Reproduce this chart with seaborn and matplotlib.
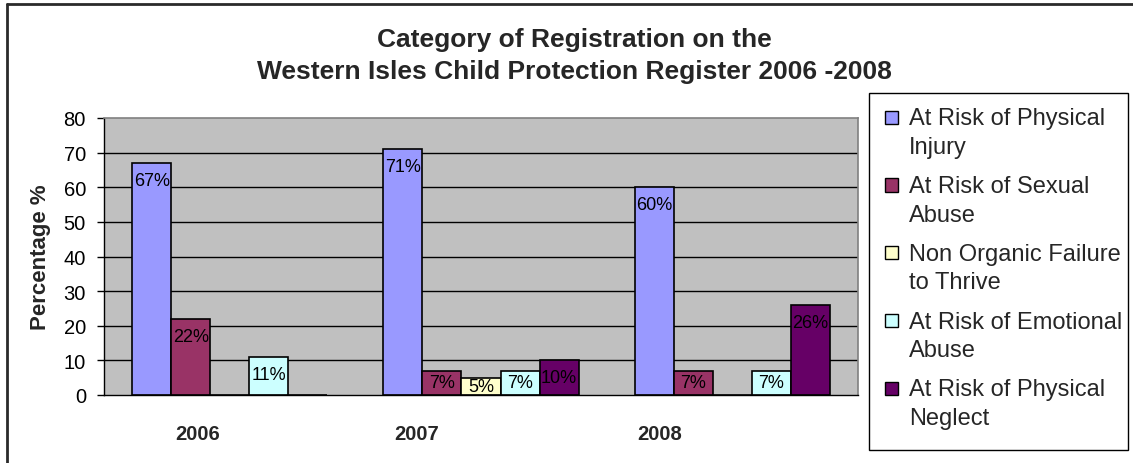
import numpy as np
import pandas as pd
import seaborn as sns
import matplotlib
matplotlib.use("Agg")
import matplotlib.pyplot as plt
from matplotlib.patches import Rectangle
from matplotlib.lines import Line2D
from matplotlib.legend_handler import HandlerPatch

# ---- data -------------------------------------------------------------
years = ["2006", "2007", "2008"]
categories = [
    "At Risk of Physical\nInjury",
    "At Risk of Sexual\nAbuse",
    "Non Organic Failure\nto Thrive",
    "At Risk of Emotional\nAbuse",
    "At Risk of Physical\nNeglect",
]
physical_injury = [67, 71, 60]
sexual_abuse = [22, 7, 7]
failure_to_thrive = [0, 5, 0]
emotional_abuse = [11, 7, 7]
physical_neglect = [0, 10, 26]
series = [physical_injury, sexual_abuse, failure_to_thrive,
          emotional_abuse, physical_neglect]
colors = ["#9999FF", "#993366", "#FFFFCC", "#CCFFFF", "#660066"]
yticks = [0, 10, 20, 30, 40, 50, 60, 70, 80]

rows = []
for cat, vals in zip(categories, series):
    for yr, v in zip(years, vals):
        rows.append({"Year": yr, "Category": cat, "Percent": v})
df = pd.DataFrame(rows)

# ---- figure -----------------------------------------------------------
sns.set_theme(style="white")
plt.rcParams["font.family"] = ["Liberation Sans", "DejaVu Sans"]

W, H = 1133, 464
fig = plt.figure(figsize=(W / 100, H / 100), dpi=100)
fig.patch.set_facecolor("white")
ax = fig.add_axes([104 / W, 1 - 396 / H, (858 - 104) / W, (396 - 119) / H])

sns.barplot(data=df, x="Year", y="Percent", hue="Category",
            order=years, hue_order=categories, palette=colors,
            width=0.776, edgecolor="black", linewidth=1.2,
            saturation=1, ax=ax, legend=False)

ax.set_facecolor("#C0C0C0")
ax.set_ylim(0, 80)
ax.set_xlim(-0.5, 2.5)
ax.set_yticks(yticks)
ax.set_yticklabels([str(t) for t in yticks], fontsize=14.5, color="black")
for t in yticks[1:-1]:
    ax.axhline(t, color="black", lw=1, zorder=0.5)
ax.set_axisbelow(True)

for s in ["left", "bottom"]:
    ax.spines[s].set_color("black")
    ax.spines[s].set_linewidth(1)
for s in ["top", "right"]:
    ax.spines[s].set_color("#808080")
    ax.spines[s].set_linewidth(1.2)

ax.tick_params(axis="y", length=5, width=1, color="black", pad=8,
               direction="out", left=True)
ax.set_xticks([-0.126, 0.745, 1.712])
ax.set_xticklabels(years, fontsize=14.5, fontweight="bold")
ax.tick_params(axis="x", length=0, pad=21)
ax.set_xlabel("")
ax.set_ylabel("Percentage %", fontsize=16, fontweight="bold", labelpad=9)

# value labels just inside the top of each bar
for container, vals in zip(ax.containers, series):
    for bar, v in zip(container, vals):
        if v <= 0:
            continue
        cx = bar.get_x() + bar.get_width() / 2
        ax.text(cx, v - min(v / 2, 5), f"{v}%", ha="center", va="center",
                fontsize=13, color="black")

# title
fig.text(574 / W, 1 - 56 / H,
         "Category of Registration on the\nWestern Isles Child Protection Register 2006 -2008",
         ha="center", va="center", fontsize=19, fontweight="bold",
         linespacing=1.38)


# legend with square keys set beside the first line of each label
class FirstLineSquare(HandlerPatch):
    def create_artists(self, legend, orig_handle, xdescent, ydescent,
                       width, height, fontsize, trans):
        size = 0.56 * fontsize
        x0 = -xdescent + width - size
        y0 = -ydescent + (height - size) / 2 + 0.66 * fontsize
        p = Rectangle((x0, y0), size, size,
                      facecolor=orig_handle.get_facecolor(),
                      edgecolor="black", linewidth=1)
        p.set_transform(trans)
        return [p]


handles = [Rectangle((0, 0), 1, 1, facecolor=c, edgecolor="black")
           for c in colors]
leg = fig.legend(handles, categories, loc="upper left",
                 bbox_to_anchor=(870 / W, 1 - 99 / H),
                 bbox_transform=fig.transFigure,
                 fontsize=17, frameon=False, borderpad=0.4,
                 handlelength=0.8, handletextpad=0.45, labelspacing=0.73,
                 borderaxespad=0,
                 handler_map={Rectangle: FirstLineSquare()})
for txt in leg.get_texts():
    txt.set_linespacing(1.38)

# legend frame
fig.add_artist(Rectangle((869 / W, 1 - 451 / H), (1128 - 869) / W,
                         (451 - 94) / H, transform=fig.transFigure,
                         facecolor="none", edgecolor="black", lw=1))

# chart-area border (left and top edges)
fig.add_artist(Line2D([7 / W, 7 / W], [0, 1 - 5 / H], color="#2a2a2a",
                      lw=2, transform=fig.transFigure))
fig.add_artist(Line2D([7 / W, 1], [1 - 5 / H, 1 - 5 / H], color="#2a2a2a",
                      lw=2, transform=fig.transFigure))

fig.savefig("out.png", dpi=100)
